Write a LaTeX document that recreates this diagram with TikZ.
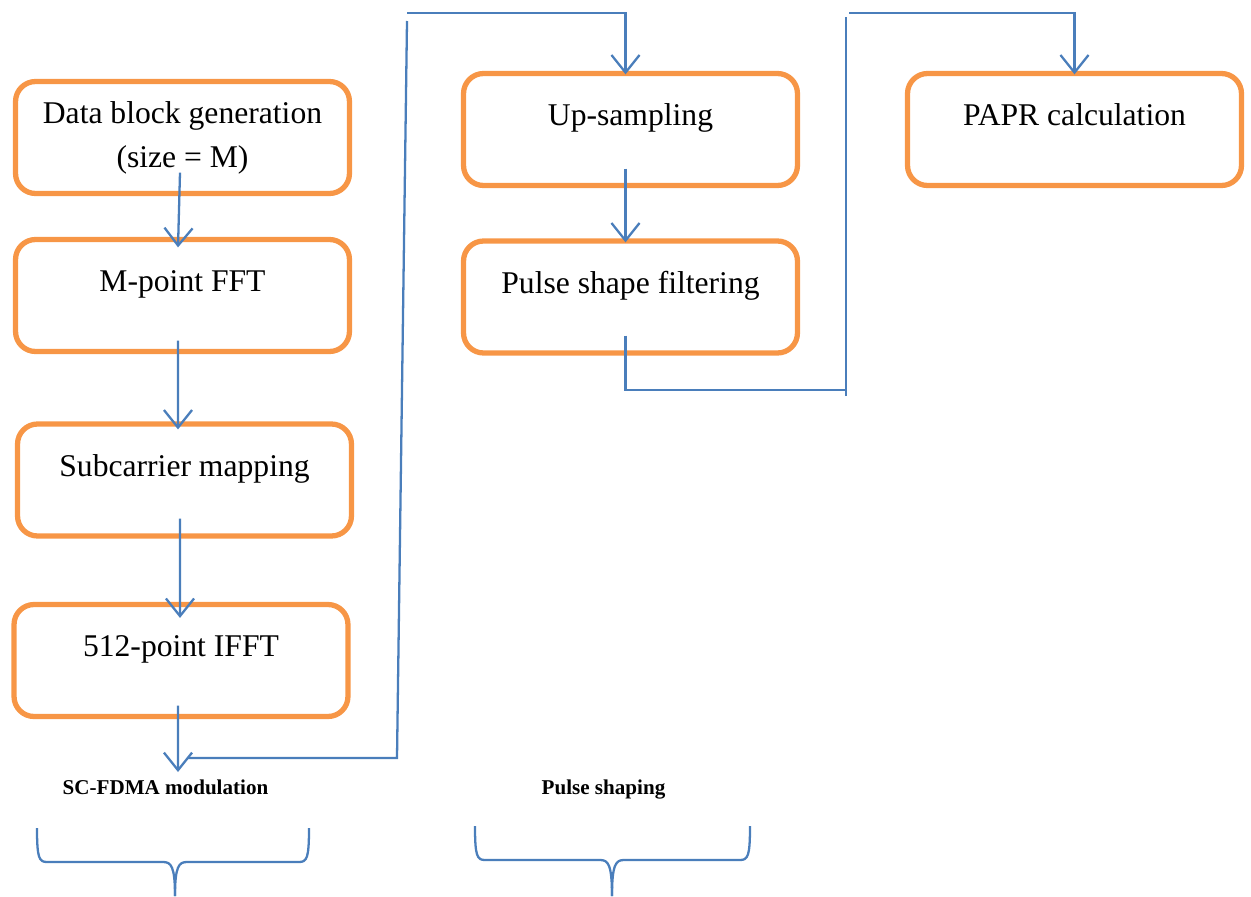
\documentclass[tikz,border=0pt]{standalone}
\usepackage{fontspec}
\setmainfont{Liberation Serif}
\usetikzlibrary{arrows.meta}
\definecolor{cOrange}{HTML}{F79646}
\definecolor{cBlue}{HTML}{4A7EBB}

\begin{document}
\begin{tikzpicture}[x=0.02cm, y=-0.02cm, font=\fontsize{18}{25}\selectfont,
    blk/.style={draw=cOrange, line width=3pt, rounded corners=0.4cm,
      minimum width=6.68cm, minimum height=2.24cm, align=center},
    blkup/.style={blk, text height=12pt, text depth=16pt},
    flow/.style={draw=cBlue, line width=1.3pt},
    flowarr/.style={flow, -{Straight Barb[length=10pt, width=16pt]}},
    grp/.style={font=\fontsize{12}{14}\selectfont\bfseries, text height=8pt, text depth=2.5pt}]
  \useasboundingbox (0,0) rectangle (1251,896);
  \node[blk]   (gen)  at (182.5,137.5) {Data block generation\\(size = M)};
  \node[blkup] (fft)  at (182.5,295.5) {M-point FFT};
  \node[blkup] (map)  at (184.5,480)   {Subcarrier mapping};
  \node[blkup] (ifft) at (181,660.5)   {512-point IFFT};
  \node[blkup] (ups)  at (630.5,129.5) {Up-sampling};
  \node[blkup] (psf)  at (630.5,297)   {Pulse shape filtering};
  \node[blkup] (papr) at (1074.5,129.5) {PAPR calculation};
  \node[grp] (scl) at (165.5,790) {SC-FDMA modulation};
  \node[grp] (psl) at (603.5,790) {Pulse shaping};

  \coordinate (m1) at (178,772);
  \coordinate (m2) at (188,758);
  \coordinate (m3) at (397,758);
  \coordinate (m4) at (407,21);
  \coordinate (m5) at (407,13);
  \coordinate (k1) at (846,390);
  \coordinate (k2) at (846,396);
  \coordinate (k3) at (846,17);
  \coordinate (k4) at (849,13);

  \draw[flowarr] ([xshift=-0.05cm,yshift=0.47cm]gen.south) -- ([xshift=-0.09cm,yshift=-0.21cm]fft.north);
  \draw[flowarr] ([xshift=-0.09cm,yshift=0.27cm]fft.south) -- ([xshift=-0.13cm,yshift=-0.16cm]map.north);
  \draw[flowarr] ([xshift=-0.09cm,yshift=0.40cm]map.south) -- ([xshift=-0.02cm,yshift=-0.32cm]ifft.north);
  \draw[flowarr] ([xshift=-0.06cm,yshift=0.27cm]ifft.south) -- (m1);
  \draw[flow] (m2) -- (m3) -- (m4);
  \draw[flowarr] (m5) -| ([xshift=-0.1cm,yshift=-0.07cm]ups.north);
  \draw[flowarr] ([xshift=-0.1cm,yshift=0.39cm]ups.south) -- ([xshift=-0.1cm,yshift=-0.08cm]psf.north);
  \draw[flow] ([xshift=-0.1cm,yshift=0.4cm]psf.south) |- (k1);
  \draw[flow] (k2) -- (k3);
  \draw[flowarr] (k4) -| ([yshift=-0.07cm]papr.north);

  \draw[flow] (37,828) .. controls (37,858) and (39,862) .. (47,862) -- (163,862)
    .. controls (171,862) and (175,866) .. (175,896);
  \draw[flow] (309,828) .. controls (309,858) and (307,862) .. (299,862) -- (187,862)
    .. controls (179,862) and (175,866) .. (175,896);
  \draw[flow] (475,826) .. controls (475,856) and (477,860) .. (485,860) -- (600,860)
    .. controls (608,860) and (612,864) .. (612,896);
  \draw[flow] (750,826) .. controls (750,856) and (748,860) .. (740,860) -- (624,860)
    .. controls (616,860) and (612,864) .. (612,896);
\end{tikzpicture}
\end{document}
